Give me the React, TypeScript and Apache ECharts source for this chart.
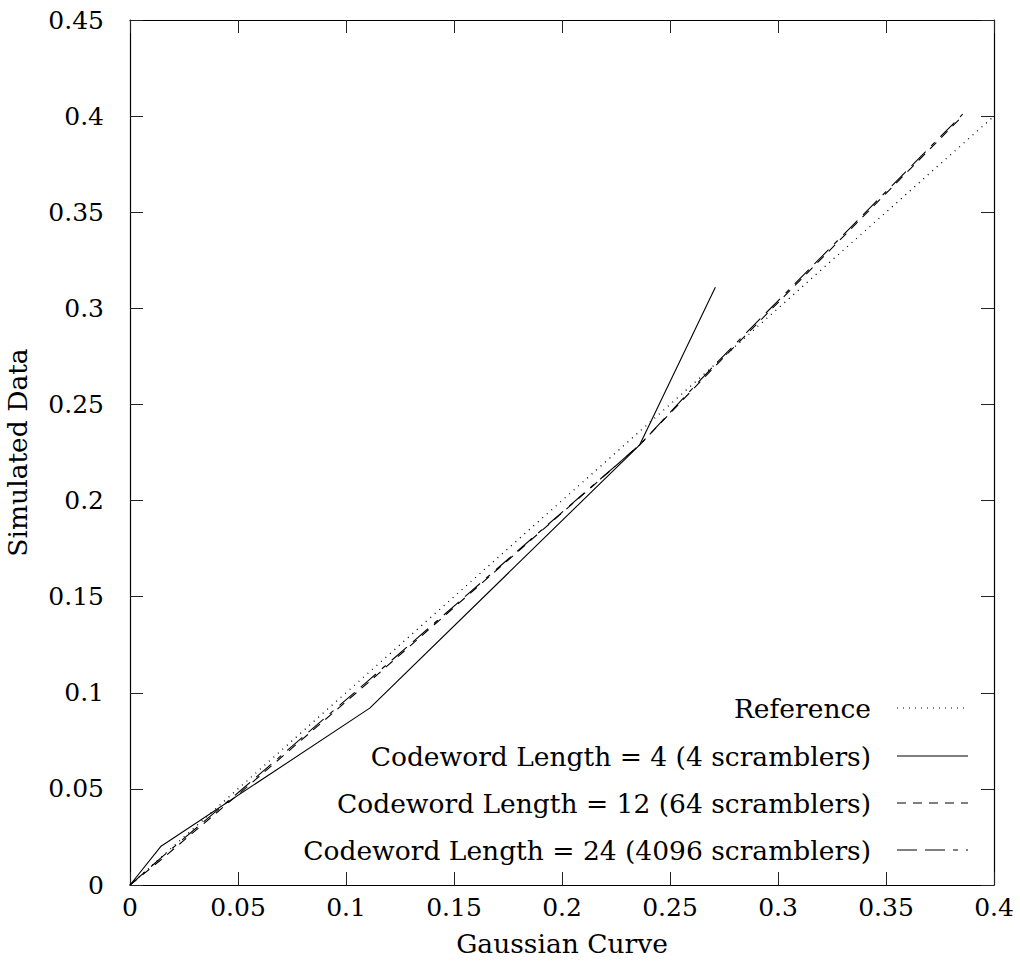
import React, { useEffect, useRef } from "react";
import * as echarts from "echarts";

const xTicks = [0, 0.05, 0.1, 0.15, 0.2, 0.25, 0.3, 0.35, 0.4];
const yTicks = [0, 0.05, 0.1, 0.15, 0.2, 0.25, 0.3, 0.35, 0.4, 0.45];

const refX = [0, 0.4];
const refY = [0, 0.4];

const cl4X = [0, 0.0142, 0.111, 0.236, 0.271];
const cl4Y = [0, 0.02, 0.092, 0.229, 0.311];

const cl12X = [0, 0.0142, 0.05, 0.111, 0.236, 0.271, 0.3845];
const cl12Y = [0, 0.013, 0.047, 0.106, 0.229, 0.27, 0.399];

const cl24X = [0, 0.0142, 0.05, 0.111, 0.236, 0.271, 0.3855];
const cl24Y = [0, 0.014, 0.048, 0.107, 0.229, 0.271, 0.401];

const seriesNames = [
  "Reference",
  "Codeword Length = 4 (4 scramblers)",
  "Codeword Length = 12 (64 scramblers)",
  "Codeword Length = 24 (4096 scramblers)",
];

const dashes: (number[] | "solid")[] = [[1, 5], "solid", [9, 7], [20, 8, 20, 8, 5, 8]];

const FONT = "'DejaVu Serif', 'Liberation Serif', serif";
const FS = 25;
const LFS = 26.5;

const zip = (xs: number[], ys: number[]) => xs.map((x, i) => [x, ys[i]]);

export default function App() {
  const ref = useRef<HTMLDivElement>(null);
  useEffect(() => {
    document.body.style.margin = "0";
    const chart = echarts.init(ref.current!, null, { renderer: "svg" });
    const gl = 130, gr = 26, gt = 20, gb = 76;
    const axisLine = { show: true, onZero: false, lineStyle: { color: "#000", width: 1.2 } };
    const tick = { show: true, inside: true, length: 13, lineStyle: { color: "#222", width: 1 } };
    const datas = [zip(refX, refY), zip(cl4X, cl4Y), zip(cl12X, cl12Y), zip(cl24X, cl24Y)];
    const legendRows = [708, 756, 803, 850];
    const graphics: any[] = [];
    seriesNames.forEach((n, i) => {
      graphics.push({
        type: "text",
        x: 871,
        y: legendRows[i],
        style: {
          text: n,
          font: `${LFS}px ${FONT}`,
          fill: "#000",
          textAlign: "right",
          textVerticalAlign: "middle",
        },
      });
      graphics.push({
        type: "line",
        shape: { x1: 897, y1: legendRows[i], x2: 968, y2: legendRows[i] },
        style: {
          stroke: "#000",
          lineWidth: 1,
          lineDash: dashes[i] === "solid" ? null : dashes[i],
        },
      });
    });
    const fmt = (ticks: number[]) => (v: number) => {
      const t = ticks.find((k) => Math.abs(k - v) < 1e-9);
      return t === undefined ? "" : String(t);
    };
    chart.setOption({
      animation: false,
      backgroundColor: "#fff",
      grid: { left: gl, right: gr, top: gt, bottom: gb, containLabel: false, outerBoundsMode: "none" },
      xAxis: [
        {
          type: "value",
          min: 0,
          max: 0.4,
          interval: 0.05,
          name: "Gaussian Curve",
          nameLocation: "middle",
          nameGap: 45,
          nameTextStyle: { fontFamily: FONT, fontSize: LFS, color: "#000" },
          axisLine,
          axisTick: tick,
          splitLine: { show: false },
          axisLabel: { fontFamily: FONT, fontSize: FS, color: "#000", margin: 10, formatter: fmt(xTicks) },
        },
        {
          type: "value",
          position: "top",
          min: 0,
          max: 0.4,
          interval: 0.05,
          axisLine,
          axisTick: tick,
          axisLabel: { show: false },
          splitLine: { show: false },
        },
      ],
      yAxis: [
        {
          type: "value",
          min: 0,
          max: 0.45,
          interval: 0.05,
          name: "Simulated Data",
          nameLocation: "middle",
          nameGap: 99,
          nameRotate: 90,
          nameTextStyle: { fontFamily: FONT, fontSize: LFS, color: "#000" },
          axisLine,
          axisTick: tick,
          splitLine: { show: false },
          axisLabel: { fontFamily: FONT, fontSize: FS, color: "#000", margin: 26, formatter: fmt(yTicks) },
        },
        {
          type: "value",
          position: "right",
          min: 0,
          max: 0.45,
          interval: 0.05,
          axisLine,
          axisTick: tick,
          axisLabel: { show: false },
          splitLine: { show: false },
        },
      ],
      series: seriesNames.map((n, i) => ({
        name: n,
        type: "line",
        data: datas[i],
        showSymbol: false,
        symbol: "none",
        clip: true,
        lineStyle: {
          color: "#000",
          width: i === 0 ? 1.3 : 1.1,
          type: dashes[i] === "solid" ? "solid" : dashes[i],
        },
      })),
      graphic: graphics,
    });
    return () => chart.dispose();
  }, []);
  return <div ref={ref} style={{ width: 1020, height: 961 }} />;
}
